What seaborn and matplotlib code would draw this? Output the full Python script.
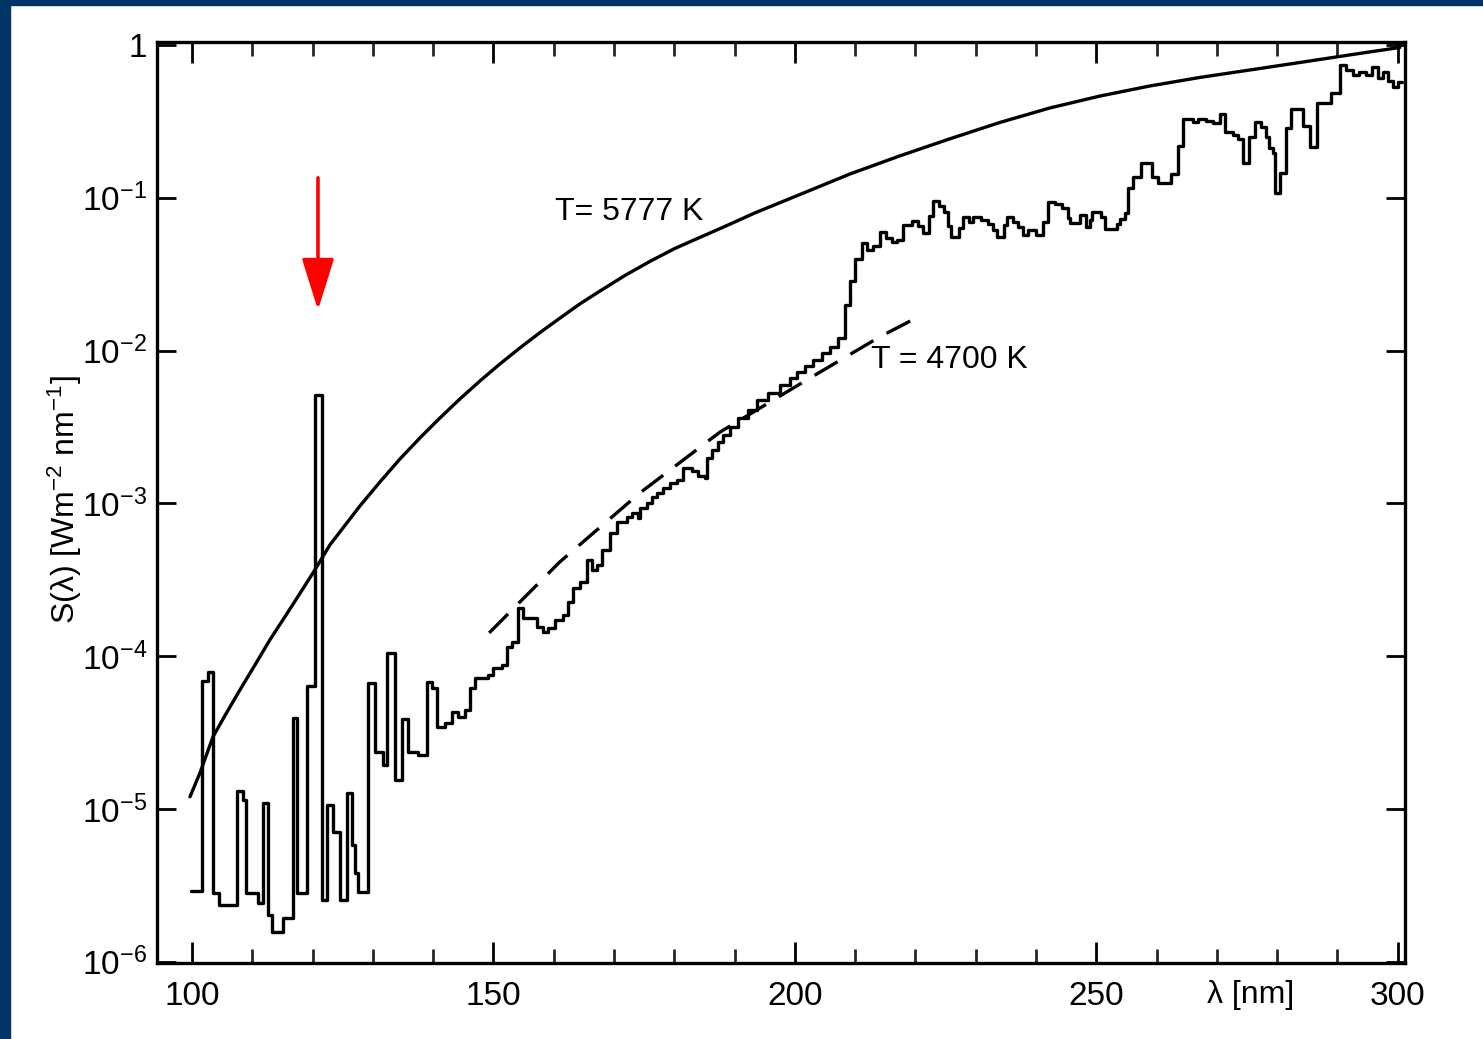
import numpy as np
import pandas as pd
import matplotlib
matplotlib.use("Agg")
import matplotlib.pyplot as plt
from matplotlib.patches import Rectangle
from matplotlib.ticker import FixedLocator, MultipleLocator, FixedFormatter, NullLocator
import seaborn as sns

# ---------------- data ----------------
# measured solar spectral irradiance (step curve), wavelength in nm, S in W m^-2 nm^-1
meas_wl = [99.83, 101.66, 102.65, 103.48, 104.48, 107.46, 108.46, 108.96, 110.95, 111.77,
           112.60, 113.27, 115.09, 116.75, 117.41, 119.07, 120.40, 121.56, 122.39, 123.38,
           124.54, 125.70, 126.53, 127.03, 127.53, 129.19, 130.35, 131.67, 132.34, 133.66,
           134.83, 135.82, 137.48, 138.97, 139.80, 140.63, 141.96, 143.12, 144.11, 145.27,
           146.10, 146.93, 149.09, 149.92, 151.41, 152.24, 153.07, 154.06, 154.89, 157.21,
           158.21, 159.04, 160.20, 161.53, 162.35, 163.18, 164.34, 165.51, 166.33, 167.16,
           167.99, 169.32, 170.48, 172.14, 172.97, 173.96, 174.30, 175.46, 176.29, 177.11,
           178.11, 179.27, 180.43, 181.43, 182.92, 183.91, 185.07, 185.41, 186.24, 187.23,
           188.06, 189.22, 190.55, 192.21, 193.70, 195.52, 197.51, 199.17, 200.33, 201.66,
           202.99, 204.48, 205.80, 207.13, 208.29, 209.12, 209.95, 211.11, 211.94, 212.94,
           214.10, 215.09, 216.09, 216.92, 217.91, 219.40, 220.40, 221.23, 222.22, 222.89,
           223.88, 224.71, 225.37, 225.87, 227.20, 227.86, 228.86, 229.52, 230.85, 232.01,
           232.84, 233.50, 234.66, 235.16, 236.15, 236.98, 237.81, 238.64, 239.97, 241.13,
           241.96, 243.12, 244.28, 245.27, 245.61, 247.26, 248.26, 248.92, 249.25, 250.75,
           251.41, 253.40, 253.90, 254.73, 255.22, 256.05, 257.38, 259.20, 260.20, 262.35,
           263.52, 264.34, 266.00, 266.83, 268.16, 269.32, 270.48, 271.31, 272.64, 273.47,
           274.30, 275.29, 276.29, 277.28, 278.11, 278.61, 279.27, 279.60, 280.43, 281.43,
           282.26, 284.25, 285.41, 286.57, 288.89, 290.38, 291.38, 292.54, 293.53, 294.69,
           295.69, 296.68, 297.51, 298.34, 299.17, 300.00, 300.66]
meas_S = [2.90e-6, 6.88e-5, 7.88e-5, 2.82e-6, 2.35e-6, 1.31e-5, 1.15e-5, 2.82e-6, 2.43e-6, 1.09e-5,
          2.02e-6, 1.57e-6, 1.94e-6, 3.94e-5, 2.82e-6, 6.38e-5, 5.12e-3, 2.54e-6, 1.06e-5, 7.07e-6,
          2.54e-6, 1.27e-5, 5.81e-6, 3.81e-6, 2.86e-6, 6.68e-5, 2.36e-5, 1.94e-5, 1.05e-4, 1.55e-5,
          3.88e-5, 2.36e-5, 2.26e-5, 6.78e-5, 6.19e-5, 3.44e-5, 3.66e-5, 4.31e-5, 4.00e-5, 4.45e-5,
          6.19e-5, 7.20e-5, 7.53e-5, 8.37e-5, 8.75e-5, 1.15e-4, 1.24e-4, 2.07e-4, 1.78e-4, 1.55e-4,
          1.44e-4, 1.53e-4, 1.73e-4, 1.86e-4, 2.26e-4, 2.79e-4, 3.06e-4, 4.26e-4, 3.67e-4, 3.95e-4,
          4.95e-4, 6.40e-4, 7.55e-4, 8.14e-4, 8.65e-4, 8.02e-4, 9.33e-4, 1.01e-3, 1.10e-3, 1.17e-3,
          1.26e-3, 1.36e-3, 1.42e-3, 1.71e-3, 1.63e-3, 1.51e-3, 1.47e-3, 1.98e-3, 2.24e-3, 2.52e-3,
          2.80e-3, 3.16e-3, 3.62e-3, 4.09e-3, 4.75e-3, 5.28e-3, 5.96e-3, 6.62e-3, 7.25e-3, 7.93e-3,
          8.68e-3, 9.64e-3, 1.06e-2, 1.21e-2, 1.99e-2, 2.85e-2, 3.97e-2, 5.06e-2, 4.55e-2, 4.84e-2,
          5.97e-2, 5.46e-2, 5.14e-2, 5.30e-2, 6.64e-2, 7.05e-2, 6.54e-2, 5.89e-2, 7.60e-2, 9.53e-2,
          8.83e-2, 8.07e-2, 6.54e-2, 5.54e-2, 6.34e-2, 7.48e-2, 6.95e-2, 7.48e-2, 7.16e-2, 6.74e-2,
          6.15e-2, 5.54e-2, 6.64e-2, 7.48e-2, 6.95e-2, 6.44e-2, 5.71e-2, 6.15e-2, 5.71e-2, 6.95e-2,
          9.39e-2, 9.10e-2, 8.57e-2, 7.38e-2, 6.84e-2, 7.71e-2, 6.44e-2, 7.16e-2, 8.07e-2, 7.48e-2,
          6.25e-2, 6.74e-2, 7.26e-2, 7.96e-2, 0.116, 0.137, 0.169, 0.137, 0.125, 0.143,
          0.218, 0.328, 0.313, 0.328, 0.318, 0.309, 0.353, 0.270, 0.258, 0.243,
          0.169, 0.250, 0.313, 0.291, 0.250, 0.212, 0.196, 0.107, 0.145, 0.286,
          0.381, 0.295, 0.215, 0.417, 0.485, 0.740, 0.686, 0.637, 0.666, 0.637,
          0.718, 0.608, 0.666, 0.581, 0.531, 0.573, 0.573]

# black-body curve T = 5777 K
bb5777_wl = [99.67, 101.33, 103.48, 105.64, 107.96, 110.45, 112.94, 116.58, 120.07, 122.89,
             125.37, 127.86, 131.18, 134.49, 137.81, 141.13, 144.44, 147.76, 151.08, 154.39,
             157.71, 161.03, 164.34, 167.66, 171.81, 175.95, 180.10, 184.24, 188.39, 193.37,
             200.83, 209.12, 217.41, 225.70, 234.00, 242.29, 250.58, 258.87, 267.16, 275.46,
             283.75, 292.04, 300.33]
bb5777_S = [1.2e-5, 1.72e-5, 2.96e-5, 4.19e-5, 6.01e-5, 8.75e-5, 1.28e-4, 2.13e-4, 3.50e-4,
            5.35e-4, 7.17e-4, 9.61e-4, 1.38e-3, 1.95e-3, 2.68e-3, 3.62e-3, 4.82e-3, 6.32e-3,
            8.17e-3, 1.04e-2, 1.31e-2, 1.63e-2, 2.02e-2, 2.45e-2, 3.10e-2, 3.83e-2, 4.66e-2,
            5.50e-2, 6.49e-2, 7.96e-2, 0.105, 0.143, 0.188, 0.243, 0.311, 0.387, 0.463, 0.539,
            0.613, 0.686, 0.768, 0.861, 0.963]

# black-body curve T = 4700 K (dashed)
bb4700_wl = [149.3, 161.0, 174.3, 187.6, 202.0, 214.1, 220.7]
bb4700_S = [1.42e-4, 4.13e-4, 1.17e-3, 2.93e-3, 6.43e-3, 1.23e-2, 1.68e-2]

x_ticks = [100, 150, 200, 250, 300]
x_ticklabels = ["100", "150", "200", "250", "300"]
y_ticks = [1e-6, 1e-5, 1e-4, 1e-3, 1e-2, 1e-1, 1]
y_ticklabels = [r"10$^{-6}$", r"10$^{-5}$", r"10$^{-4}$", r"10$^{-3}$", r"10$^{-2}$", r"10$^{-1}$", "1"]

label_5777 = "T= 5777 K"
label_4700 = "T = 4700 K"
xlabel = "λ [nm]"
ylabel = r"S(λ) [Wm$^{-2}$ nm$^{-1}$]"

# ---------------- style ----------------
sns.set_theme(style="ticks")
plt.rcParams["font.family"] = ["Liberation Sans Narrow", "Liberation Sans", "DejaVu Sans"]
plt.rcParams["mathtext.default"] = "regular"

W, H = 1483, 1039
fig = plt.figure(figsize=(W / 100, H / 100), dpi=100, facecolor="white")
ax = fig.add_axes([157 / W, 76 / H, (1405 - 157) / W, (997 - 76) / H])
ax.set_facecolor("white")

# blue slide frame (left and top)
navy = "#003466"
fig.add_artist(Rectangle((0, 0), 10 / W, 1, transform=fig.transFigure, color=navy, zorder=10))
fig.add_artist(Rectangle((0, 1 - 5 / H), 1, 5 / H, transform=fig.transFigure, color=navy, zorder=10))

df_meas = pd.DataFrame({"wl": meas_wl, "S": meas_S})
df_5777 = pd.DataFrame({"wl": bb5777_wl, "S": bb5777_S})
df_4700 = pd.DataFrame({"wl": bb4700_wl, "S": bb4700_S})

lw = 2.4
sns.lineplot(data=df_meas, x="wl", y="S", ax=ax, color="black", lw=lw,
             drawstyle="steps-post", estimator=None, sort=False)
sns.lineplot(data=df_5777, x="wl", y="S", ax=ax, color="black", lw=lw,
             estimator=None, sort=False)
sns.lineplot(data=df_4700, x="wl", y="S", ax=ax, color="black", lw=lw,
             estimator=None, sort=False)
ax.lines[-1].set_dashes([8, 4.5])

ax.set_yscale("log")
ax.set_xlim(94.2, 301.2)
ax.set_ylim(9.8e-7, 1.046)

# ticks
ax.xaxis.set_major_locator(FixedLocator(x_ticks))
ax.xaxis.set_major_formatter(FixedFormatter(x_ticklabels))
ax.xaxis.set_minor_locator(MultipleLocator(10))
ax.yaxis.set_major_locator(FixedLocator(y_ticks))
ax.yaxis.set_major_formatter(FixedFormatter(y_ticklabels))
ax.yaxis.set_minor_locator(NullLocator())
ax.tick_params(axis="x", which="major", direction="in", length=15, width=2,
               top=True, bottom=True, labelsize=24, pad=13, colors="black")
ax.tick_params(axis="x", which="minor", direction="in", length=10, width=2,
               top=True, bottom=True)
ax.tick_params(axis="y", which="major", direction="in", length=14, width=2,
               left=True, right=True, labelsize=24, pad=7, colors="black")
for s in ax.spines.values():
    s.set_visible(True)
    s.set_linewidth(2.4)
    s.set_color("black")

ax.set_xlabel(xlabel, fontsize=23, color="black")
ax.xaxis.set_label_coords(0.876, -0.035)
ax.xaxis.label.set_va("center")
ax.set_ylabel(ylabel, fontsize=23, color="black")
ax.yaxis.set_label_coords(-0.074, 0.503)
ax.yaxis.label.set_va("center")

# curve labels
ax.text(172.6, 0.0807, label_5777, fontsize=23, ha="center", va="center", color="black")
ax.text(225.7, 8.68e-3, label_4700, fontsize=23, ha="center", va="center", color="black")

# red arrow pointing to Lyman-alpha
ax.annotate("", xy=(120.9, 0.0184), xytext=(120.9, 0.135),
            arrowprops=dict(arrowstyle="-|>,head_length=3.2,head_width=1.0",
                            mutation_scale=10, color="#ff0000", lw=2.6,
                            shrinkA=0, shrinkB=0))

fig.savefig("out.png", dpi=100, facecolor="white")
